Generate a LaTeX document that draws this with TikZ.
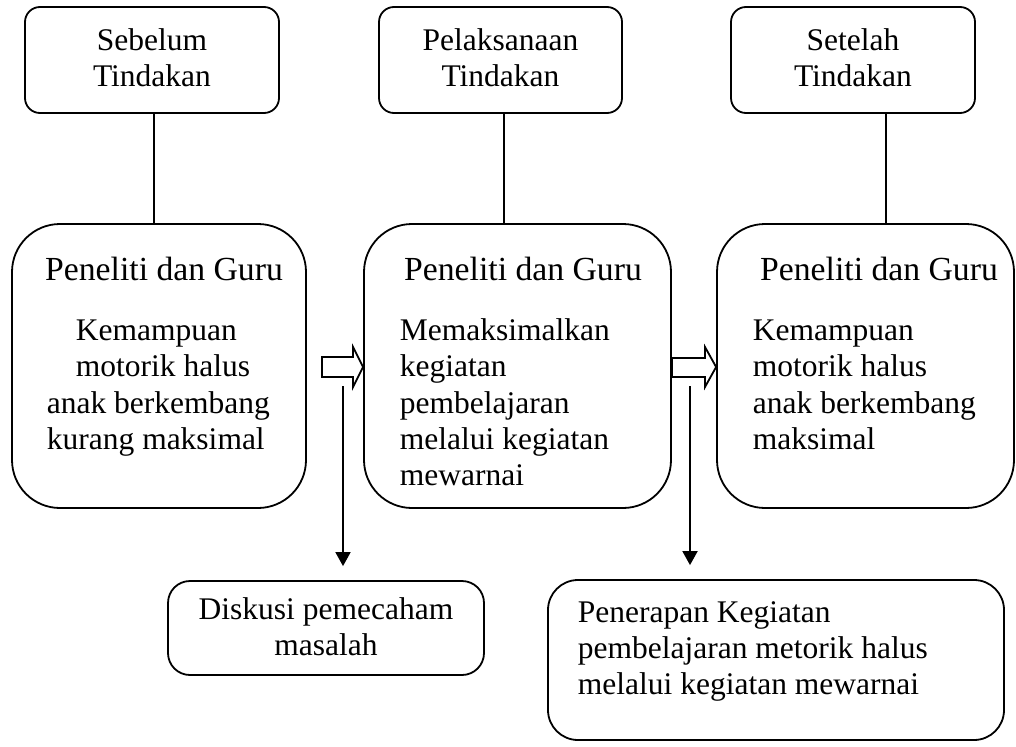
\documentclass[tikz,border=0pt]{standalone}
\usepackage{fontspec}
\setmainfont{Liberation Serif}
\usetikzlibrary{arrows.meta,calc}
\begin{document}
\begin{tikzpicture}[x=1pt,y=-1pt,
  line width=1.8pt,
  topbox/.style={draw, rounded corners=15pt, inner sep=0pt, minimum height=106pt},
  midbox/.style={draw, rounded corners=48pt, inner sep=0pt},
  botbox/.style={draw, rounded corners=22pt, inner sep=0pt},
  txt/.style={inner sep=0pt, anchor=base},
  ttl/.style={inner sep=0pt, anchor=base, font=\fontsize{33.7}{36}\selectfont},
  ltxt/.style={inner sep=0pt, anchor=base west},
  hollow/.style={draw, fill=white, line width=1.8pt, line join=miter},
  down/.style={-{Triangle[length=14pt,width=15pt]}, line width=1.8pt},
  every node/.style={font=\fontsize{31.5}{36}\selectfont}
]
\useasboundingbox (0,0) rectangle (1016,746);
\fill[white] (0,0) rectangle (1016,746);

% top boxes
\node[topbox, minimum width=254pt] (t1) at (152,60) {};
\node[topbox, minimum width=243pt] (t2) at (500.5,60) {};
\node[topbox, minimum width=244pt] (t3) at (853,60) {};
\node[txt] (t1a) at (152,51) {Sebelum};
\node[txt] (t1b) at (152,87) {Tindakan};
\node[txt] (t2a) at (500.5,51) {Pelaksanaan};
\node[txt] (t2b) at (500.5,87) {Tindakan};
\node[txt] (t3a) at (853,51) {Setelah};
\node[txt] (t3b) at (853,87) {Tindakan};

% middle boxes
\node[midbox, minimum width=294pt, minimum height=284pt] (m1) at (159,366) {};
\node[midbox, minimum width=307pt, minimum height=284pt] (m2) at (517.5,366) {};
\node[midbox, minimum width=297pt, minimum height=284pt] (m3) at (865.5,366) {};

\node[ttl] (m1t) at (164,280) {Peneliti dan Guru};
\node[ltxt] (m1a) at (75,340) {Kemampuan};
\node[ltxt] (m1b) at (75,376) {motorik halus};
\node[ltxt] (m1c) at (46,413) {anak berkembang};
\node[ltxt] (m1d) at (46,449) {kurang maksimal};

\node[ttl] (m2t) at (523,280) {Peneliti dan Guru};
\node[ltxt] (m2a) at (399,340) {Memaksimalkan};
\node[ltxt] (m2b) at (399,376) {kegiatan};
\node[ltxt] (m2c) at (399,413) {pembelajaran};
\node[ltxt] (m2d) at (399,449) {melalui kegiatan};
\node[ltxt] (m2e) at (399,485) {mewarnai};

\node[ttl] (m3t) at (879,280) {Peneliti dan Guru};
\node[ltxt] (m3a) at (752,340) {Kemampuan};
\node[ltxt] (m3b) at (752,376) {motorik halus};
\node[ltxt] (m3c) at (752,413) {anak berkembang};
\node[ltxt] (m3d) at (752,449) {maksimal};

% bottom boxes
\node[botbox, minimum width=316pt, minimum height=94pt] (b1) at (326,628) {};
\node[botbox, rounded corners=30pt, minimum width=456pt, minimum height=160pt] (b2) at (776,660) {};
\node[txt] (b1a) at (326,619) {Diskusi pemecaham};
\node[txt] (b1b) at (326,655) {masalah};
\node[ltxt] (b2a) at (577,622) {Penerapan Kegiatan};
\node[ltxt] (b2b) at (577,658) {pembelajaran metorik halus};
\node[ltxt] (b2c) at (577,694) {melalui kegiatan mewarnai};

% vertical connectors top -> middle
\draw ([xshift=2pt]t1.south) -- ([xshift=2pt]t1.south |- m1.north);
\draw ([xshift=3.5pt]t2.south) -- ([xshift=3.5pt]t2.south |- m2.north);
\draw ([xshift=33pt]t3.south) -- ([xshift=33pt]t3.south |- m3.north);

% hollow arrows
\draw[hollow] (322,357) -- (353,357) -- (353,347) -- (m2.west |- 0,367) -- (353,387) -- (353,377) -- (322,377) -- cycle;
\draw[hollow] (m2.east |- 0,358) -- (705,358) -- (705,347) -- (m3.west |- 0,367) -- (705,387) -- (705,377) -- (m2.east |- 0,377) -- cycle;

% down arrows
\coordinate (d1) at (343,386);
\coordinate (d2) at (690,386);
\draw[down] (d1) -- ($(d1 |- b1.north)+(0,-14)$);
\draw[down] (d2) -- ($(d2 |- b2.north)+(0,-14)$);
\end{tikzpicture}
\end{document}
